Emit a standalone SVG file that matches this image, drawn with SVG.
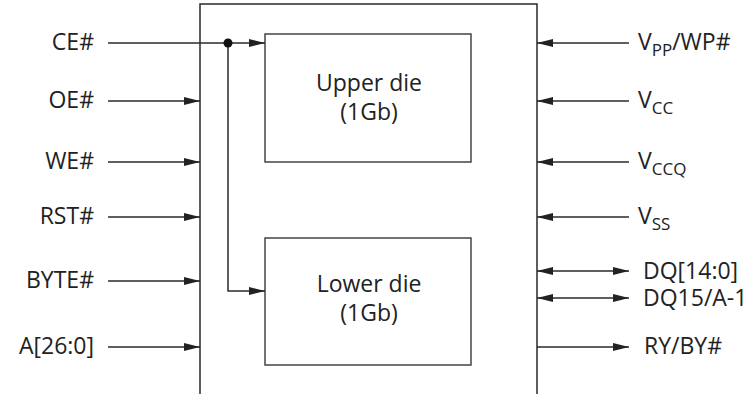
<svg xmlns="http://www.w3.org/2000/svg" width="753" height="394" viewBox="0 0 753 394">
<defs>
<marker id="ah" markerUnits="userSpaceOnUse" markerWidth="17" markerHeight="9" refX="16" refY="4" orient="auto-start-reverse">
<path d="M0,0 L16,4 L0,8 z" fill="#222"/>
</marker>
<style>
.ln{stroke:#2a2a2a;stroke-width:1.5;fill:none}
.bx{stroke:#444;stroke-width:1.5;fill:#fff}
.a{marker-end:url(#ah)}
.d{marker-start:url(#ah);marker-end:url(#ah)}
text{font-family:"Open Sans","Noto Sans","DejaVu Sans",sans-serif;font-size:23px;fill:#222}
.l{text-anchor:end}
.c{text-anchor:middle}
.s{font-size:17px}
</style>
</defs>
<rect width="753" height="394" fill="#fff"/>
<g id="package"><path class="ln" d="M200,394 V4 H537 V394"/></g>
<g id="upper-die"><rect class="bx" x="265" y="34" width="206" height="128"/>
<text class="c" x="369" y="91">Upper die</text><text class="c" x="369" y="120">(1Gb)</text></g>
<g id="lower-die"><rect class="bx" x="265" y="238" width="206" height="127"/>
<text class="c" x="369" y="292">Lower die</text><text class="c" x="369" y="321">(1Gb)</text></g>
<g id="connectors">
<line class="ln a" x1="108" y1="43" x2="265" y2="43"/>
<polyline class="ln a" points="228,43 228,291 265,291"/>
<circle cx="228" cy="43" r="4.5" fill="#111"/>
<line class="ln a" x1="108" y1="101" x2="200" y2="101"/>
<line class="ln a" x1="108" y1="162" x2="200" y2="162"/>
<line class="ln a" x1="108" y1="217" x2="200" y2="217"/>
<line class="ln a" x1="108" y1="281" x2="200" y2="281"/>
<line class="ln a" x1="108" y1="347" x2="200" y2="347"/>
<line class="ln a" x1="629" y1="43" x2="537" y2="43"/>
<line class="ln a" x1="629" y1="101" x2="537" y2="101"/>
<line class="ln a" x1="629" y1="162" x2="537" y2="162"/>
<line class="ln a" x1="629" y1="217" x2="537" y2="217"/>
<line class="ln d" x1="537" y1="271" x2="629" y2="271"/>
<line class="ln d" x1="537" y1="298" x2="629" y2="298"/>
<line class="ln a" x1="537" y1="347" x2="629" y2="347"/>
</g>
<g id="labels-left">
<text class="l" x="94" y="50">CE#</text>
<text class="l" x="94" y="108">OE#</text>
<text class="l" x="94" y="169">WE#</text>
<text class="l" x="94" y="224">RST#</text>
<text class="l" x="94" y="288">BYTE#</text>
<text class="l" x="94" y="354">A[26:0]</text>
</g>
<g id="labels-right">
<text x="638" y="50">V<tspan class="s" dy="6">PP</tspan><tspan dy="-6">/WP#</tspan></text>
<text x="638" y="108">V<tspan class="s" dy="6">CC</tspan></text>
<text x="638" y="169">V<tspan class="s" dy="6">CCQ</tspan></text>
<text x="638" y="224">V<tspan class="s" dy="6">SS</tspan></text>
<text x="643" y="279">DQ[14:0]</text>
<text x="643" y="306">DQ15/A-1</text>
<text x="644" y="354">RY/BY#</text>
</g>
</svg>
